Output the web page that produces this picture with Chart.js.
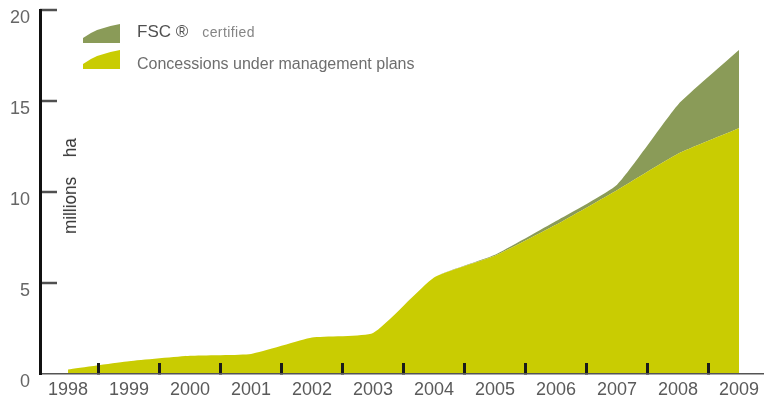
<!DOCTYPE html>
<html><head><meta charset="utf-8">
<script src="https://cdn.jsdelivr.net/npm/chart.js@4/dist/chart.umd.min.js"></script>
<style>
html,body{margin:0;padding:0;background:#fff;}
#wrap{position:relative;width:764px;height:400px;overflow:hidden;}
#c{position:absolute;left:0;top:0;width:764px;height:400px;}
#legend{position:absolute;left:83px;top:24px;font-family:'Liberation Sans',Arial,sans-serif;}
.item{display:flex;align-items:center;height:19px;margin-bottom:7px;white-space:nowrap;}
.item svg{display:block;margin-right:17px;flex:none;}
.lbl{line-height:19px;position:relative;}
.item:first-child .lbl{font-size:17px;color:#505050;top:-2px;}
.item:last-child .lbl{font-size:16px;color:#6e6e6e;top:4px;}
.suf{font-size:14px;color:#858585;margin-left:14px;line-height:19px;letter-spacing:0.4px;position:relative;top:-1px;}
#ytitle{position:absolute;left:70px;top:186px;transform:translate(-50%,-50%) rotate(-90deg) scaleX(0.9);white-space:nowrap;
  font-family:'Liberation Sans',Arial,sans-serif;font-size:19px;color:#333;}
#ytitle span+span{margin-left:22px;}
</style></head>
<body><div id="wrap"><canvas id="c" width="764" height="400"></canvas><div id="legend"></div><div id="ytitle"></div></div>
<script>
const years = [1998,1999,2000,2001,2002,2003,2004,2005,2006,2007,2008,2009];
const concessions = [0.25,0.7,1.0,1.1,2.0,2.25,5.3,6.5,8.2,10.1,12.1,13.5];
const fscCertified = [0,0,0,0,0,0,0,0.05,0.2,0.3,2.7,4.3];
const yTicks = [0,5,10,15,20];
const seriesNames = ['Concessions under management plans','FSC ®'];
const fscSuffix = 'certified';
const axisTitle = ['millions','ha'];

const YELLOW = '#c9cc02';
const GREEN = '#8a9b58';

document.getElementById('ytitle').innerHTML = axisTitle.map(t=>'<span>'+t+'</span>').join('');

const htmlLegend = {
  id:'htmlLegend',
  afterUpdate(chart){
    const box = document.getElementById('legend');
    box.innerHTML='';
    chart.data.datasets.slice().reverse().forEach(ds=>{
      const row=document.createElement('div'); row.className='item';
      row.innerHTML='<svg width="37" height="19" viewBox="0 0 37 19"><path d="M0,19 L0,14 Q13,4 37,0 L37,19 Z" fill="'+ds.backgroundColor+'"/></svg>';
      const t=document.createElement('span'); t.className='lbl'; t.textContent=ds.label; row.appendChild(t);
      if(ds.suffix){const s=document.createElement('span'); s.className='suf'; s.textContent=ds.suffix; row.appendChild(s);}
      box.appendChild(row);
    });
  }
};

// inward tick marks on the value axis, placed through the y scale
const yTickMarks = {
  id:'yTickMarks',
  afterDatasetsDraw(chart){
    const y=chart.scales.y, ctx=chart.ctx;
    const x0=chart.chartArea.left;
    ctx.save();
    ctx.strokeStyle='#505050'; ctx.lineWidth=2.5;
    yTicks.forEach(v=>{
      if(v===0) return;
      const p=Math.round(y.getPixelForValue(v));
      ctx.beginPath(); ctx.moveTo(x0, p); ctx.lineTo(x0+17, p); ctx.stroke();
    });
    ctx.restore();
  }
};

function noPad(s){ s.paddingTop=0; s.paddingBottom=0; s.paddingLeft=0; s.paddingRight=0; }

const canvas=document.getElementById('c');
new Chart(canvas,{
  type:'line',
  data:{
    labels: years,
    datasets:[
      {label:seriesNames[0], data:concessions, backgroundColor:YELLOW, borderWidth:0, pointRadius:0, fill:'origin', tension:0.15},
      {label:seriesNames[1], suffix:fscSuffix, data:fscCertified, backgroundColor:GREEN, borderWidth:0, pointRadius:0, fill:'-1', tension:0.15}
    ]
  },
  options:{
    responsive:false, animation:false, devicePixelRatio:1,
    layout:{padding:{top:10,left:0,right:0,bottom:0}},
    plugins:{legend:{display:false}, tooltip:{enabled:false}},
    scales:{
      x:{type:'linear', min:1997.54, max:2009.41,
        afterBuildTicks:s=>{s.ticks=years.map(v=>({value:v}));},
        ticks:{autoSkip:false, maxRotation:0, padding:16, color:'#5a5a5a', font:{family:'Liberation Sans', size:18}, callback:v=>String(v)},
        grid:{offset:true, drawOnChartArea:false, drawTicks:true, tickLength:-11, color:'#1a1a1a', lineWidth:3, z:1},
        border:{display:true, color:'#555', width:1.5, z:1},
        afterFit:s=>{s.height=26; noPad(s);}
      },
      y:{stacked:true, min:0, max:20,
        afterBuildTicks:s=>{s.ticks=yTicks.map(v=>({value:v}));},
        ticks:{padding:10, labelOffset:8, color:'#666', font:{family:'Liberation Sans', size:18}},
        grid:{display:false, drawOnChartArea:false, drawTicks:false},
        border:{display:true, color:'#111', width:3, z:1},
        afterFit:s=>{s.width=40; noPad(s);}
      }
    }
  },
  plugins:[htmlLegend, yTickMarks]
});
</script>
</body></html>
